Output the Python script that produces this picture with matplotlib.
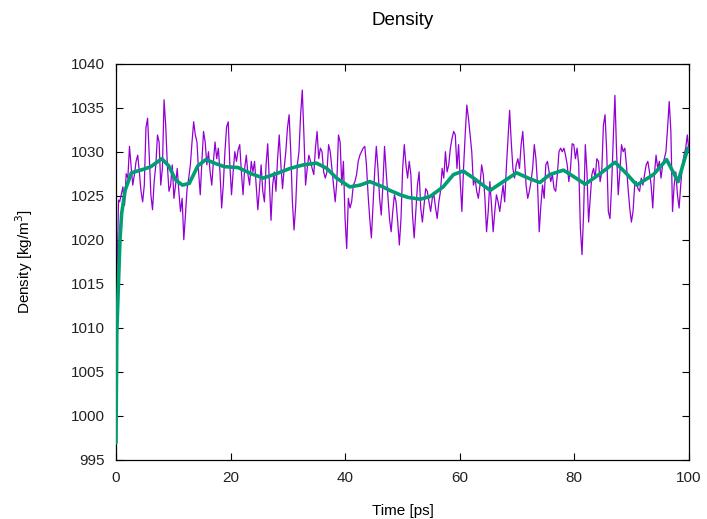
import numpy as np
import matplotlib
matplotlib.use("Agg")
import matplotlib.pyplot as plt

plt.rcParams['font.family'] = ['Liberation Sans', 'DejaVu Sans']

# Raw density trace (kg/m^3)
rho_start = [998.0, 1016.0, 1024.5]
t_start = [0.0, 0.2, 0.45]
rho_seg1 = [1024.3, 1025.1, 1026.0, 1023.9, 1027.5, 1027.0, 1030.6, 1028.3, 1026.2, 1027.4,
            1028.9, 1029.6, 1027.7, 1025.5, 1024.3, 1026.2, 1032.7, 1033.8, 1029.6, 1025.1,
            1023.4, 1026.6, 1028.5, 1031.9, 1031.1, 1026.2, 1028.1, 1035.9, 1033.0, 1028.5,
            1025.5, 1026.2, 1028.5, 1024.7, 1026.2, 1028.1, 1025.5, 1023.2, 1024.7, 1020.0,
            1022.8, 1025.8, 1027.0, 1028.5, 1031.1, 1033.4, 1031.9, 1031.1, 1027.7, 1025.1,
            1028.9, 1032.3, 1031.1, 1028.5, 1030.0, 1027.7, 1026.2, 1028.9, 1031.1, 1029.2,
            1030.4, 1027.7, 1023.6, 1026.2, 1030.0, 1032.8]
rho_seg2 = [1033.4, 1028.5, 1025.1, 1027.7, 1030.0, 1028.9, 1030.2, 1030.8, 1027.7, 1025.1,
            1028.1, 1029.6, 1027.4, 1026.2, 1028.9, 1027.7, 1028.9, 1026.2, 1023.4, 1025.8,
            1028.5, 1025.5, 1024.3, 1028.5, 1030.9, 1026.6, 1022.2, 1026.2, 1027.7, 1025.5,
            1029.2, 1031.9, 1028.5, 1025.8, 1028.1, 1030.0, 1032.7, 1034.2, 1030.0, 1024.3,
            1021.1, 1023.9, 1028.5, 1030.0, 1034.2, 1037.0, 1031.9, 1026.2, 1028.1, 1029.6,
            1028.9, 1028.1, 1027.4, 1030.4, 1032.3, 1029.2, 1030.4, 1030.0, 1027.7, 1027.0,
            1027.7, 1030.8, 1030.0, 1028.1, 1026.2, 1024.3, 1026.6, 1031.9, 1031.1, 1026.2]
rho_seg3 = [1028.9, 1022.4, 1019.0, 1024.7, 1023.6, 1024.3, 1026.2, 1026.6, 1027.4, 1028.9,
            1029.6, 1030.0, 1030.4, 1030.6, 1028.5, 1025.1, 1022.4, 1020.2, 1023.9, 1027.7,
            1030.6, 1028.1, 1024.7, 1022.8, 1026.2, 1030.6, 1027.7, 1025.1, 1022.4, 1020.9,
            1023.2, 1025.1, 1024.3, 1022.0, 1019.4, 1022.4, 1028.1, 1030.8, 1028.5, 1027.0,
            1028.9, 1027.4, 1022.8, 1020.2, 1023.2, 1026.2, 1027.7, 1023.6, 1022.0, 1023.9,
            1025.8, 1025.5, 1024.3, 1023.2, 1024.7, 1025.1, 1023.6, 1022.4, 1024.3, 1025.5,
            1028.1, 1027.0, 1030.0, 1027.7, 1028.5, 1030.4, 1031.5, 1032.3, 1031.9, 1028.1]
rho_seg4 = [1030.8, 1026.6, 1023.2, 1028.1, 1031.9, 1035.3, 1033.8, 1031.9, 1030.0, 1026.2,
            1027.0, 1025.5, 1024.7, 1026.2, 1028.5, 1027.4, 1024.7, 1020.9, 1023.2, 1026.6,
            1023.9, 1020.9, 1023.2, 1025.1, 1024.3, 1023.2, 1024.7, 1026.2, 1024.3, 1028.1,
            1031.5, 1034.7, 1031.1, 1028.1, 1027.0, 1028.5, 1029.2, 1028.1, 1030.8, 1032.3,
            1029.2, 1026.2, 1024.7, 1025.5, 1026.6, 1028.1, 1030.8, 1029.2, 1026.2, 1020.9,
            1023.9, 1026.2, 1024.7, 1028.5, 1028.9, 1027.7, 1026.6, 1027.4, 1025.8, 1025.5,
            1027.4, 1030.0, 1030.4, 1030.0, 1030.4, 1029.6, 1028.5, 1026.6, 1028.1, 1030.9]
rho_seg5 = [1030.8, 1029.2, 1030.4, 1028.5, 1021.3, 1018.3, 1023.2, 1030.8, 1027.7, 1022.0,
            1024.7, 1027.4, 1028.1, 1027.0, 1029.2, 1028.9, 1026.6, 1027.7, 1033.0, 1034.2,
            1030.0, 1023.2, 1022.4, 1026.2, 1031.5, 1036.4, 1030.0, 1025.1, 1027.7, 1030.8,
            1030.0, 1030.4, 1028.5, 1025.8, 1023.6, 1022.0, 1023.2, 1026.2, 1026.6, 1025.8,
            1025.5, 1027.0, 1026.2, 1027.4, 1028.5, 1028.9, 1027.7, 1026.2, 1023.6, 1027.4,
            1029.6, 1028.1, 1028.9, 1027.0, 1028.5, 1029.2, 1030.0, 1032.7, 1035.7, 1032.3,
            1023.2, 1026.2, 1027.7, 1025.1, 1023.6, 1026.2, 1028.5, 1029.6, 1030.4, 1031.9,
            1030.0]

rho_raw = np.array(rho_start + rho_seg1 + rho_seg2 + rho_seg3 + rho_seg4 + rho_seg5)
n_body = len(rho_raw) - len(t_start)
t_raw = np.concatenate([t_start, np.linspace(0.64, 100.0, n_body)])

# Smoothed (running average) curve
t_smooth = [0.0, 0.15, 0.4, 0.7, 1.0, 1.6, 2.7, 4.8, 6.1, 8.0, 9.2, 10.4, 11.6, 12.8,
            14.3, 15.7, 17.2, 18.9, 21.3, 23.6, 25.7, 28.0, 30.4, 32.7, 35.0, 36.8,
            38.5, 40.8, 42.6, 44.3, 46.6, 47.8, 49.6, 51.0, 53.1, 54.8, 57.1, 58.9,
            60.6, 62.4, 65.3, 67.6, 69.9, 72.3, 74.0, 75.7, 78.1, 79.8, 81.9, 84.5,
            87.1, 89.1, 90.9, 93.8, 96.1, 98.1, 99.8]
rho_smooth = [996.9, 1009.4, 1014.3, 1020.0, 1023.0, 1025.6, 1027.6, 1028.0, 1028.3,
              1029.2, 1028.4, 1026.8, 1026.2, 1026.4, 1028.4, 1029.1, 1028.7, 1028.3,
              1028.2, 1027.5, 1027.0, 1027.5, 1028.1, 1028.5, 1028.7, 1028.1, 1027.0,
              1026.0, 1026.2, 1026.6, 1026.0, 1025.6, 1025.1, 1024.8, 1024.6, 1024.9,
              1026.0, 1027.4, 1027.8, 1027.0, 1025.6, 1026.6, 1027.6, 1026.9, 1026.5,
              1027.4, 1027.9, 1027.2, 1026.3, 1027.5, 1028.8, 1027.5, 1026.2, 1027.4,
              1029.1, 1026.6, 1030.4]

x_ticks = [0, 20, 40, 60, 80, 100]
y_ticks = [995, 1000, 1005, 1010, 1015, 1020, 1025, 1030, 1035, 1040]

fig = plt.figure(figsize=(7.07, 5.19), dpi=100)
ax = fig.add_axes([0.164, 0.1143, 0.8105, 0.7630])

ax.plot(t_raw, rho_raw, color='#9400D3', lw=0.9, zorder=2)
ax.plot(t_smooth, rho_smooth, color='#009E73', lw=2.6, zorder=3,
        solid_joinstyle='round', solid_capstyle='round')

ax.set_xlim(0, 100)
ax.set_ylim(995, 1040)
ax.set_xticks(x_ticks)
ax.set_yticks(y_ticks)
ax.tick_params(direction='in', length=5, width=0.8, top=True, right=True,
               labelsize=11, labelcolor='#222222', pad=8)
for s in ax.spines.values():
    s.set_linewidth(0.9)

ax.set_title('Density', fontsize=13.5, pad=28)
ax.set_xlabel('Time [ps]', fontsize=11, labelpad=14)
ax.set_ylabel('Density [kg/m$^3$]', fontsize=11, labelpad=26)

fig.savefig('out.png', dpi=100)
